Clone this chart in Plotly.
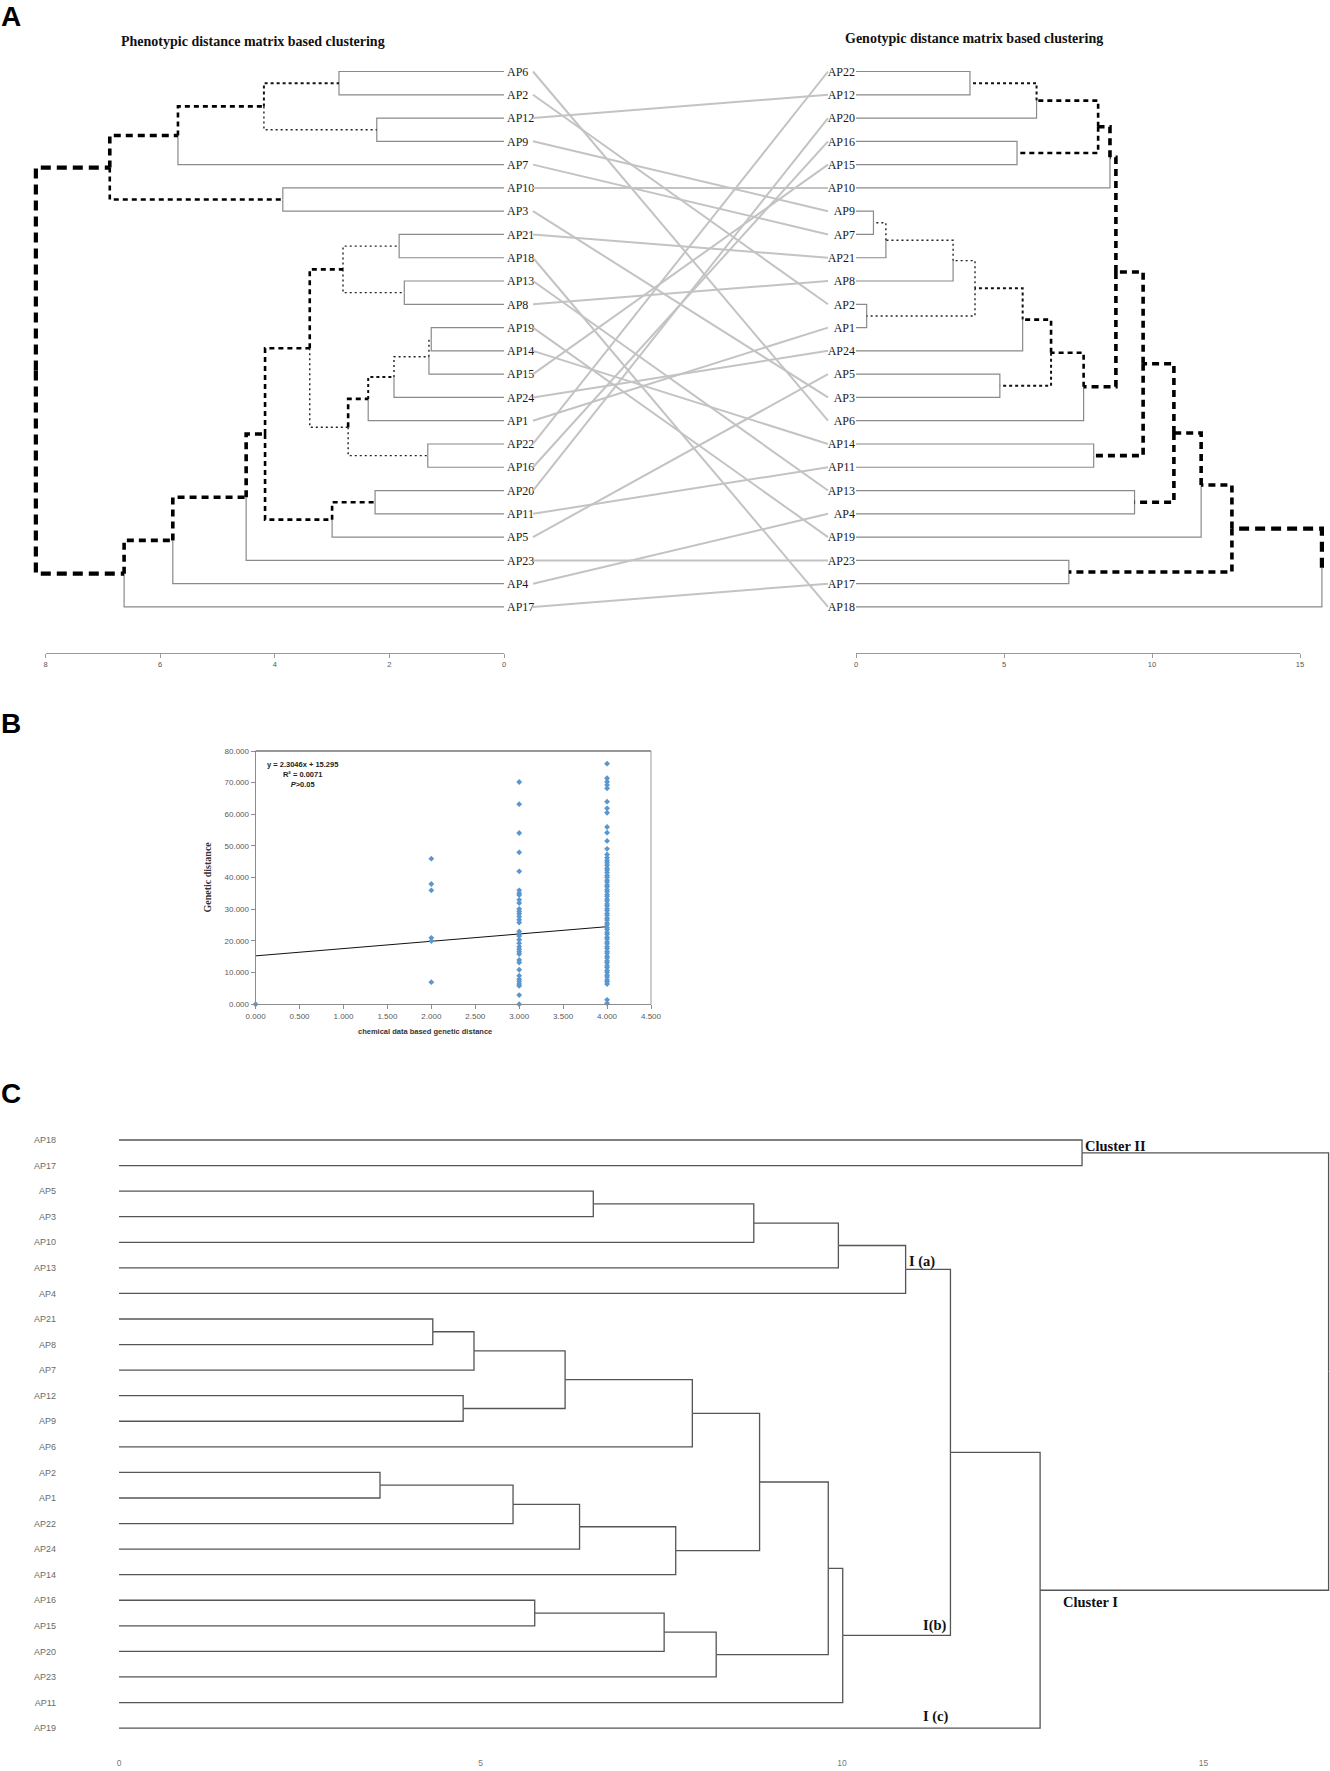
import plotly.graph_objects as go

# ======================= DATA =======================
# Panel A - left: phenotypic distance dendrogram (leaf order top -> bottom)
pheno_leaves = ["AP6", "AP2", "AP12", "AP9", "AP7", "AP10", "AP3", "AP21", "AP18", "AP13", "AP8",
                "AP19", "AP14", "AP15", "AP24", "AP1", "AP22", "AP16", "AP20", "AP11", "AP5",
                "AP23", "AP4", "AP17"]
# (node, child_a, child_b, merge distance)
pheno_merges = [
    ("L1", "AP6", "AP2", 2.88),
    ("L2", "AP12", "AP9", 2.22),
    ("L3", "L1", "L2", 4.19),
    ("L4", "L3", "AP7", 5.69),
    ("L5", "AP10", "AP3", 3.86),
    ("L6", "L4", "L5", 6.88),
    ("L7", "AP21", "AP18", 1.83),
    ("L8", "AP13", "AP8", 1.74),
    ("L9", "L7", "L8", 2.81),
    ("L10", "AP19", "AP14", 1.27),
    ("L11", "L10", "AP15", 1.31),
    ("L12", "L11", "AP24", 1.92),
    ("L13", "L12", "AP1", 2.37),
    ("L14", "AP22", "AP16", 1.33),
    ("L15", "L13", "L14", 2.72),
    ("L16", "L9", "L15", 3.39),
    ("L17", "AP20", "AP11", 2.25),
    ("L18", "L17", "AP5", 3.00),
    ("L19", "L16", "L18", 4.17),
    ("L20", "L19", "AP23", 4.50),
    ("L21", "L20", "AP4", 5.78),
    ("L22", "L21", "AP17", 6.63),
    ("L23", "L6", "L22", 8.17),
]
pheno_ticks = [0, 2, 4, 6, 8]

# Panel A - right: genotypic distance dendrogram
geno_leaves = ["AP22", "AP12", "AP20", "AP16", "AP15", "AP10", "AP9", "AP7", "AP21", "AP8", "AP2",
               "AP1", "AP24", "AP5", "AP3", "AP6", "AP14", "AP11", "AP13", "AP4", "AP19", "AP23",
               "AP17", "AP18"]
geno_merges = [
    ("R1", "AP22", "AP12", 3.85),
    ("R2", "R1", "AP20", 6.10),
    ("R3", "AP16", "AP15", 5.44),
    ("R4", "R2", "R3", 8.18),
    ("R5", "R4", "AP10", 8.58),
    ("R6", "AP9", "AP7", 0.59),
    ("R7", "R6", "AP21", 1.01),
    ("R8", "R7", "AP8", 3.28),
    ("R9", "AP2", "AP1", 0.36),
    ("R10", "R8", "R9", 4.02),
    ("R11", "R10", "AP24", 5.63),
    ("R12", "AP5", "AP3", 4.86),
    ("R13", "R11", "R12", 6.59),
    ("R14", "R13", "AP6", 7.69),
    ("R15", "R5", "R14", 8.78),
    ("R16", "AP14", "AP11", 8.03),
    ("R17", "R15", "R16", 9.70),
    ("R18", "AP13", "AP4", 9.41),
    ("R19", "R17", "R18", 10.74),
    ("R20", "R19", "AP19", 11.66),
    ("R21", "AP23", "AP17", 7.19),
    ("R22", "R20", "R21", 12.70),
    ("R23", "R22", "AP18", 15.74),
]
geno_ticks = [0, 5, 10, 15]

# Panel B: chemical distance vs genetic distance
gd_at_chem0 = [0.0]
gd_at_chem2 = [46.0, 38.0, 36.0, 21.0, 20.0, 7.0]
gd_at_chem3 = [70.2, 63.2, 54.1, 48.0, 42.0, 36.0, 35.1, 34.5, 33.0, 32.0, 30.1, 29.3, 28.6,
               27.7, 26.7, 25.8, 23.0, 22.2, 21.6, 20.4, 19.3, 18.2, 17.4, 16.6, 15.9, 14.0,
               13.2, 10.9, 9.0, 7.9, 7.2, 6.4, 5.8, 2.9, 0.0]
gd_at_chem4 = [76.0, 71.4, 70.3, 69.3, 68.2, 64.0, 61.9, 60.5, 56.0, 54.2, 51.6, 49.1, 47.3,
               46.3, 45.4, 44.7, 43.9, 43.0, 42.4, 41.6, 40.7, 40.1, 39.2, 38.6, 37.7, 37.1,
               36.2, 35.6, 34.7, 34.1, 33.2, 32.6, 31.7, 31.1, 30.2, 29.6, 28.7, 28.1, 27.2,
               26.6, 25.7, 25.1, 24.2, 23.6, 22.7, 22.1, 21.2, 20.6, 19.7, 19.1, 18.2, 17.6,
               16.7, 16.1, 15.2, 14.6, 13.7, 13.1, 12.2, 11.6, 10.7, 10.1, 9.2, 8.6, 7.7, 7.1,
               6.4, 1.4, 0.3]
trend_slope = 2.3046
trend_intercept = 15.295
trend_x_range = [0.0, 4.0]
b_xticks = [0.0, 0.5, 1.0, 1.5, 2.0, 2.5, 3.0, 3.5, 4.0, 4.5]
b_yticks = [0, 10, 20, 30, 40, 50, 60, 70, 80]

# Panel C: combined dendrogram
chem_leaves = ["AP18", "AP17", "AP5", "AP3", "AP10", "AP13", "AP4", "AP21", "AP8", "AP7", "AP12",
               "AP9", "AP6", "AP2", "AP1", "AP22", "AP24", "AP14", "AP16", "AP15", "AP20",
               "AP23", "AP11", "AP19"]
chem_merges = [
    ("C1", "AP18", "AP17", 13.32),
    ("C2", "AP5", "AP3", 6.56),
    ("C3", "C2", "AP10", 8.78),
    ("C4", "C3", "AP13", 9.95),
    ("C5", "C4", "AP4", 10.88),
    ("C6", "AP21", "AP8", 4.34),
    ("C7", "C6", "AP7", 4.91),
    ("C8", "AP12", "AP9", 4.76),
    ("C9", "C7", "C8", 6.17),
    ("C10", "C9", "AP6", 7.93),
    ("C11", "AP2", "AP1", 3.61),
    ("C12", "C11", "AP22", 5.45),
    ("C13", "C12", "AP24", 6.37),
    ("C14", "C13", "AP14", 7.70),
    ("C15", "C10", "C14", 8.86),
    ("C16", "AP16", "AP15", 5.75),
    ("C17", "C16", "AP20", 7.54),
    ("C18", "C17", "AP23", 8.26),
    ("C19", "C15", "C18", 9.81),
    ("C20", "C19", "AP11", 10.01),
    ("C21", "C5", "C20", 11.50),
    ("C22", "C21", "AP19", 12.74),
    ("C23", "C1", "C22", 16.73),
]
chem_ticks = [0, 5, 10, 15]
chem_cluster_names = ["Cluster II", "I (a)", "I(b)", "I (c)", "Cluster I"]

# ======================= STYLE / LAYOUT =======================
W, H = 1330, 1771
SERIF = "Liberation Serif, Times New Roman, serif"
SANS = "Liberation Sans, Arial, sans-serif"


def px(x):
    return x / W


def py(y):
    return 1 - y / H


# link styles (the line from a node to its parent takes the style of that node)
STY = {
    "leaf": dict(color="#8a8a8a", width=1.2),
    "fine": dict(color="#222222", width=1.4, dash="2px,3px"),
    "dot2": dict(color="#111111", width=2.0, dash="3px,3px"),
    "med": dict(color="#000000", width=2.6, dash="5px,4px"),
    "thick": dict(color="#000000", width=3.6, dash="7px,5px"),
    "xthick": dict(color="#000000", width=4.2, dash="10px,6px"),
}
pheno_link_style = {"L1": "dot2", "L2": "fine", "L3": "med", "L4": "thick", "L5": "med",
                    "L6": "xthick", "L7": "fine", "L8": "fine", "L9": "med", "L10": "fine",
                    "L11": "fine", "L12": "dot2", "L13": "med", "L14": "fine", "L15": "fine",
                    "L16": "med", "L17": "med", "L18": "med", "L19": "thick", "L20": "thick",
                    "L21": "thick", "L22": "xthick"}
geno_link_style = {"R1": "dot2", "R2": "med", "R3": "med", "R4": "thick", "R5": "thick",
                   "R6": "fine", "R7": "fine", "R8": "fine", "R9": "fine", "R10": "dot2",
                   "R11": "med", "R12": "dot2", "R13": "med", "R14": "thick", "R15": "thick",
                   "R16": "thick", "R17": "thick", "R18": "thick", "R19": "thick",
                   "R20": "thick", "R21": "thick", "R22": "xthick"}

# pixel geometry
A_LEAF0, A_STEP = 71.5, 23.28          # y of first leaf, spacing
A_TOP, A_BOT = 50, 653
L_X0, L_PPU, L_LEFT = 504, 57.3, 20    # left tree: x of distance 0, px per unit
R_X0, R_PPU, R_RIGHT = 856, 29.6, 1330
M_X0, M_X1, M_LEFT, M_RIGHT = 533, 828, 520, 840
B_L, B_R, B_T, B_B = 255.6, 651, 751, 1004.3
C_X0, C_PPU = 119, 72.3
C_LEAF0, C_STEP = 1140, 25.57
C_TOP, C_BOT = 1125, 1756

a_yrange = [(A_BOT - A_LEAF0) / A_STEP, (A_TOP - A_LEAF0) / A_STEP]
c_yrange = [(C_BOT - C_LEAF0) / C_STEP, (C_TOP - C_LEAF0) / C_STEP]


def tree_segments(leaves, merges, link_style, default_leaf="leaf"):
    pos = {name: (0.0, float(i)) for i, name in enumerate(leaves)}
    segs = {}
    for node, a, b, h in merges:
        yn = (pos[a][1] + pos[b][1]) / 2
        pos[node] = (h, yn)
        for c in (a, b):
            xc, yc = pos[c]
            st = link_style.get(c, default_leaf)
            xs, ys = segs.setdefault(st, ([], []))
            xs += [h, h, xc, None]
            ys += [yn, yc, yc, None]
    return pos, segs


fig = go.Figure()

# ---- connectors between the two dendrograms ----
cx, cy = [], []
for i, name in enumerate(pheno_leaves):
    j = geno_leaves.index(name)
    cx += [0, 1, None]
    cy += [i, j, None]
fig.add_trace(go.Scatter(x=cx, y=cy, mode="lines", xaxis="x7", yaxis="y",
                         line=dict(color="#c3c3c3", width=2), hoverinfo="skip",
                         showlegend=False))

order = ["leaf", "fine", "dot2", "med", "thick", "xthick"]
_, lsegs = tree_segments(pheno_leaves, pheno_merges, pheno_link_style)
for st in order:
    if st in lsegs:
        fig.add_trace(go.Scatter(x=lsegs[st][0], y=lsegs[st][1], mode="lines",
                                 xaxis="x", yaxis="y", line=STY[st], hoverinfo="skip",
                                 showlegend=False))
_, rsegs = tree_segments(geno_leaves, geno_merges, geno_link_style)
for st in order:
    if st in rsegs:
        fig.add_trace(go.Scatter(x=rsegs[st][0], y=rsegs[st][1], mode="lines",
                                 xaxis="x2", yaxis="y2", line=STY[st], hoverinfo="skip",
                                 showlegend=False))

# invisible anchors for the tick axes of panel A
fig.add_trace(go.Scatter(x=[0], y=[0], xaxis="x5", yaxis="y", mode="markers",
                         marker=dict(opacity=0), hoverinfo="skip", showlegend=False))
fig.add_trace(go.Scatter(x=[0], y=[0], xaxis="x6", yaxis="y2", mode="markers",
                         marker=dict(opacity=0), hoverinfo="skip", showlegend=False))

# ---- panel B ----
bx, by = [], []
for xv, vals in ((0.0, gd_at_chem0), (2.0, gd_at_chem2), (3.0, gd_at_chem3), (4.0, gd_at_chem4)):
    bx += [xv] * len(vals)
    by += vals
fig.add_trace(go.Scatter(x=trend_x_range,
                         y=[trend_intercept + trend_slope * v for v in trend_x_range],
                         mode="lines", xaxis="x3", yaxis="y3",
                         line=dict(color="#111111", width=1), hoverinfo="skip",
                         showlegend=False))
fig.add_trace(go.Scatter(x=bx, y=by, mode="markers", xaxis="x3", yaxis="y3",
                         marker=dict(symbol="diamond", size=4.5, color="#5a96cf"),
                         cliponaxis=False, hoverinfo="skip", showlegend=False))

# ---- panel C ----
cpos, csegs = tree_segments(chem_leaves, chem_merges, {}, default_leaf="c")
fig.add_trace(go.Scatter(x=csegs["c"][0], y=csegs["c"][1], mode="lines", xaxis="x4",
                         yaxis="y4", line=dict(color="#555555", width=1.3),
                         hoverinfo="skip", showlegend=False))

hidden = dict(showticklabels=False, showline=False, showgrid=False, zeroline=False, ticks="")

layout = dict(
    width=W, height=H, autosize=False, template="none",
    margin=dict(l=0, r=0, t=0, b=0),
    paper_bgcolor="white", plot_bgcolor="rgba(0,0,0,0)",
    showlegend=False,
    # left tree
    xaxis=dict(domain=[px(L_LEFT), px(L_X0)], anchor="y",
               range=[(L_X0 - L_LEFT) / L_PPU, 0], **hidden),
    yaxis=dict(domain=[py(A_BOT), py(A_TOP)], anchor="x", range=a_yrange, side="right",
               tickmode="array", tickvals=list(range(len(pheno_leaves))),
               ticktext=pheno_leaves, showline=False, showgrid=False, zeroline=False,
               ticks="", ticklabelstandoff=2,
               tickfont=dict(family=SERIF, size=12, color="#1a1a1a")),
    # right tree
    xaxis2=dict(domain=[px(R_X0), 1.0], anchor="y2",
                range=[0, (R_RIGHT - R_X0) / R_PPU], **hidden),
    yaxis2=dict(domain=[py(A_BOT), py(A_TOP)], anchor="x2", range=a_yrange, side="left",
                tickmode="array", tickvals=list(range(len(geno_leaves))),
                ticktext=geno_leaves, showline=False, showgrid=False, zeroline=False,
                ticks="", ticklabelstandoff=0,
                tickfont=dict(family=SERIF, size=12, color="#1a1a1a")),
    # tick axes of panel A
    xaxis5=dict(domain=[px(L_X0 - 8 * L_PPU), px(L_X0)], anchor="y", range=[8, 0],
                tickmode="array", tickvals=pheno_ticks, showline=True, linecolor="#9a9a9a",
                linewidth=1, ticks="outside", ticklen=4, tickcolor="#9a9a9a",
                showgrid=False, zeroline=False,
                tickfont=dict(family=SANS, size=7.5, color="#555555")),
    xaxis6=dict(domain=[px(R_X0), px(R_X0 + 15 * R_PPU)], anchor="y2", range=[0, 15],
                tickmode="array", tickvals=geno_ticks, showline=True, linecolor="#9a9a9a",
                linewidth=1, ticks="outside", ticklen=4, tickcolor="#9a9a9a",
                showgrid=False, zeroline=False,
                tickfont=dict(family=SANS, size=7.5, color="#555555")),
    xaxis7=dict(domain=[px(M_LEFT), px(M_RIGHT)], anchor="y",
                range=[(M_LEFT - M_X0) / (M_X1 - M_X0), (M_RIGHT - M_X0) / (M_X1 - M_X0)],
                **hidden),
    # panel B
    xaxis3=dict(domain=[px(B_L), px(B_R)], anchor="y3", range=[0, 4.5], tickmode="array",
                tickvals=b_xticks, tickformat=".3f", showline=True, linecolor="#8c8c8c",
                ticks="outside", ticklen=4, tickcolor="#8c8c8c", showgrid=False,
                zeroline=False, tickfont=dict(family=SANS, size=8, color="#595959")),
    yaxis3=dict(domain=[py(B_B), py(B_T)], anchor="x3", range=[0, 80], tickmode="array",
                tickvals=b_yticks, tickformat=".3f", showline=True, linecolor="#8c8c8c",
                ticks="outside", ticklen=4, tickcolor="#8c8c8c", showgrid=False,
                zeroline=False, tickfont=dict(family=SANS, size=8, color="#595959")),
    # panel C
    xaxis4=dict(domain=[px(C_X0), 1.0], anchor="y4", range=[0, (W - C_X0) / C_PPU],
                tickmode="array", tickvals=chem_ticks, showline=False, showgrid=False,
                zeroline=False, ticks="",
                tickfont=dict(family=SANS, size=8.5, color="#777777")),
    yaxis4=dict(domain=[py(C_BOT), py(C_TOP)], anchor="x4", range=c_yrange, side="left",
                tickmode="array", tickvals=list(range(len(chem_leaves))),
                ticktext=chem_leaves, showline=False, showgrid=False, zeroline=False,
                ticks="", ticklabelstandoff=62,
                tickfont=dict(family=SANS, size=9, color="#6a6a6a")),
)
fig.update_layout(**layout)

# plot-area border of panel B
fig.add_shape(type="line", xref="x3 domain", yref="y3 domain", x0=0, x1=1, y0=1, y1=1,
              line=dict(color="#333333", width=1))
fig.add_shape(type="line", xref="x3 domain", yref="y3 domain", x0=1, x1=1, y0=0, y1=1,
              line=dict(color="#9a9a9a", width=1))

ann = []
# panel letters
ann.append(dict(text="<b>A</b>", xref="paper", yref="paper", x=0, y=1, xanchor="left",
                yanchor="top", borderpad=0, showarrow=False,
                font=dict(family=SANS, size=28, color="#000000")))
for letter, yc in (("B", 724), ("C", 1093)):
    ann.append(dict(text="<b>%s</b>" % letter, xref="paper", yref="paper", x=0, y=py(yc),
                    xanchor="left", yanchor="middle", borderpad=0, showarrow=False,
                    font=dict(family=SANS, size=28, color="#000000")))
ann.append(dict(text="<b>Phenotypic distance matrix based clustering</b>", xref="paper",
                yref="paper", x=px(253), y=py(42), xanchor="center", yanchor="middle",
                showarrow=False, font=dict(family=SERIF, size=14, color="#111111")))
ann.append(dict(text="<b>Genotypic distance matrix based clustering</b>", xref="paper",
                yref="paper", x=px(974), y=py(38), xanchor="center", yanchor="middle",
                showarrow=False, font=dict(family=SERIF, size=14, color="#111111")))
# panel B texts
ann.append(dict(text="<b>y = %.4fx + %.3f<br>R² = 0.0071<br><i>P</i>>0.05</b>" %
                (trend_slope, trend_intercept),
                xref="paper", yref="paper", x=px(302), y=py(774), xanchor="center",
                yanchor="middle", align="center", showarrow=False,
                font=dict(family=SANS, size=7.5, color="#222222")))
ann.append(dict(text="<b>chemical data based genetic distance</b>", xref="paper",
                yref="paper", x=px(425), y=py(1031), xanchor="center", yanchor="middle",
                showarrow=False, font=dict(family=SANS, size=7.5, color="#333333")))
ann.append(dict(text="<b>Genetic distance</b>", xref="paper", yref="paper", x=px(207),
                y=py(877.5), xanchor="center", yanchor="middle", textangle=-90,
                showarrow=False, font=dict(family=SERIF, size=10, color="#333333")))
# panel C cluster labels (positions in panel C axis units)
cl_pos = {"Cluster II": (13.78, 0.24), "I (a)": (11.10, 4.76), "I(b)": (11.28, 18.97),
          "I (c)": (11.30, 22.55), "Cluster I": (13.44, 18.06)}
for name in chem_cluster_names:
    xv, yv = cl_pos[name]
    ann.append(dict(text="<b>%s</b>" % name, xref="x4", yref="y4", x=xv, y=yv,
                    xanchor="center", yanchor="middle", showarrow=False,
                    font=dict(family=SERIF, size=14.5, color="#111111")))
fig.update_layout(annotations=ann)

fig.write_html("out.html", config={"displayModeBar": False},
               post_script="document.body.style.margin='0px';")
